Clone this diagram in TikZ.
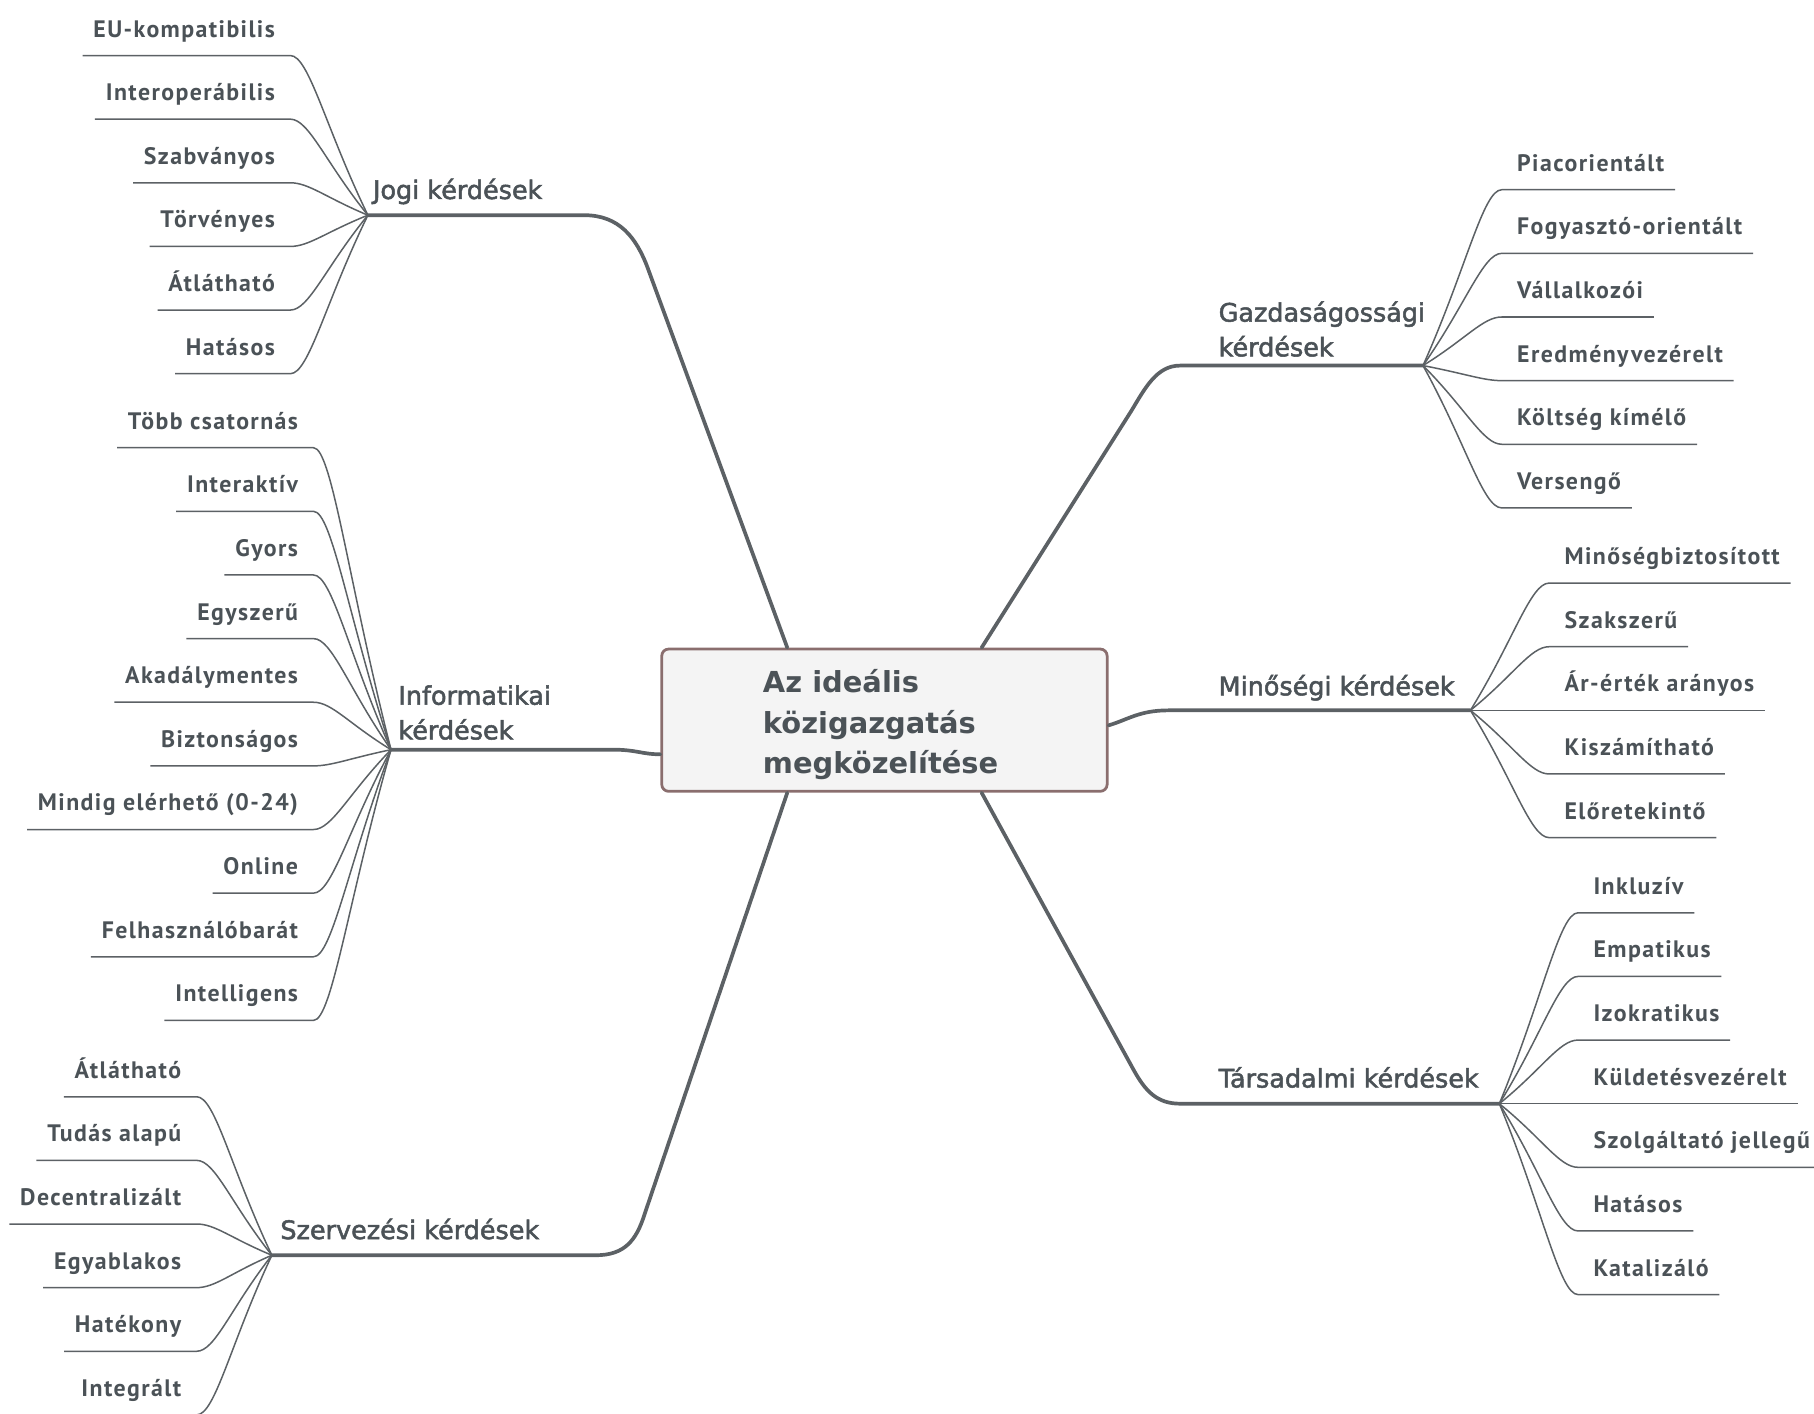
\documentclass[tikz,border=0pt]{standalone}
\usepackage{fontspec}
\setmainfont{PT Sans}
\newfontfamily\leaffont[LetterSpace=6]{PT Sans}
\newfontfamily\topicfont[FakeBold=2]{DejaVu Sans}
\newfontfamily\rootfont{DejaVu Sans}
\usetikzlibrary{calc}

\definecolor{inkgray}{HTML}{4B5257}
\definecolor{linegray}{HTML}{5C6165}
\definecolor{boxedge}{HTML}{8A6E6E}
\definecolor{boxfill}{HTML}{F4F4F4}

\tikzset{
    leaf/.style={inner sep=0pt, text=inkgray, font=\leaffont\bfseries\fontsize{10.3}{12}\selectfont},
    leafline/.style={draw=linegray, line width=0.65pt},
    branchline/.style={draw=linegray, line width=1.6pt, line cap=round},
    topic/.style={inner sep=0pt, anchor=north west, align=left, text=inkgray, font=\topicfont\fontsize{11}{15}\selectfont},
    rootbox/.style={draw=boxedge, fill=boxfill, line width=1.2pt, rounded corners=3pt, minimum width=192.5pt, minimum height=61.5pt, align=left, text=inkgray, font=\rootfont\bfseries\fontsize{12.5}{17.5}\selectfont}
}

\begin{document}
\begin{tikzpicture}[x=0.5pt, y=-0.5pt]
    \useasboundingbox (0,0) rectangle (1568,1222);

    % Root
    \node[rootbox] (root) at (764.5,622.5) {\raisebox{-2pt}[\height][\depth]{\parbox{105pt}{Az ideális\\közigazgatás\\megközelítése}}};

    % Branch points
    \coordinate (jogiB) at (318,186);
    \coordinate (infoB) at (338,648);
    \coordinate (szervB) at (235,1085);
    \coordinate (gazdB) at (1230,316);
    \coordinate (minoB) at (1271,614);
    \coordinate (tarsB) at (1296,954);

    % Main branches
    \draw[branchline] ([xshift=-42pt]root.north) -- (560,232) .. controls (550,205) and (535,186) .. (505,186) -- (jogiB);
    \draw[branchline] ([yshift=-14.75pt]root.west) .. controls (555,652) and (550,648) .. (530,648) -- (infoB);
    \draw[branchline] ([xshift=-42pt]root.south) -- (557,1050) .. controls (550,1072) and (540,1085) .. (515,1085) -- (szervB);
    \draw[branchline] ([xshift=42pt]root.north) -- (978,355) .. controls (990,335) and (1000,316) .. (1020,316) -- (gazdB);
    \draw[branchline] ([yshift=-2.25pt]root.east) .. controls (975,622) and (985,614) .. (1010,614) -- (minoB);
    \draw[branchline] ([xshift=42pt]root.south) -- (980,925) .. controls (990,943) and (1000,954) .. (1020,954) -- (tarsB);

    % Topic labels
    \node[topic] (jogiT) at (322,154) {Jogi kérdések};
    \node[topic] (infoT) at (344,592) {Informatikai\\kérdések};
    \node[topic] (szervT) at (242,1053) {Szervezési kérdések};
    \node[topic] (gazdT) at (1053,260) {Gazdaságossági\\kérdések};
    \node[topic] (minoT) at (1053,583) {Minőségi kérdések};
    \node[topic] (tarsT) at (1053,922) {Társadalmi kérdések};

    % Left leaves
    \foreach \t [count=\i from 0] in {EU-kompatibilis,Interoperábilis,Szabványos,Törvényes,Átlátható,Hatásos}{
        \node[leaf, anchor=base east] (jogi\i) at (238,{32+55*\i}) {\t};
        \coordinate (jogiE\i) at (251,{48+55*\i});
        \draw[leafline] (jogiB) .. controls ($(jogiB)!0.55!(jogiE\i)$) and ($(jogiE\i)+(16,0)$) .. (jogiE\i) -- ($(jogiE\i -| jogi\i.west)+(-9,0)$);
    }
    \foreach \t [count=\i from 0] in {Több csatornás,Interaktív,Gyors,Egyszerű,Akadálymentes,Biztonságos,Mindig elérhető (0-24),Online,Felhasználóbarát,Intelligens}{
        \node[leaf, anchor=base east] (info\i) at (258,{371+55*\i}) {\t};
        \coordinate (infoE\i) at (271,{387+55*\i});
        \draw[leafline] (infoB) .. controls ($(infoB)!0.55!(infoE\i)$) and ($(infoE\i)+(16,0)$) .. (infoE\i) -- ($(infoE\i -| info\i.west)+(-9,0)$);
    }
    \foreach \t [count=\i from 0] in {Átlátható,Tudás alapú,Decentralizált,Egyablakos,Hatékony,Integrált}{
        \node[leaf, anchor=base east] (szerv\i) at (157,{932+55*\i}) {\t};
        \coordinate (szervE\i) at (170,{948+55*\i});
        \draw[leafline] (szervB) .. controls ($(szervB)!0.55!(szervE\i)$) and ($(szervE\i)+(16,0)$) .. (szervE\i) -- ($(szervE\i -| szerv\i.west)+(-9,0)$);
    }

    % Right leaves
    \foreach \t [count=\i from 0] in {Piacorientált,Fogyasztó-orientált,Vállalkozói,Eredményvezérelt,Költség kímélő,Versengő}{
        \node[leaf, anchor=base west] (gazd\i) at (1311,{148+55*\i}) {\t};
        \coordinate (gazdE\i) at (1298,{164+55*\i});
        \draw[leafline] (gazdB) .. controls ($(gazdB)!0.55!(gazdE\i)$) and ($(gazdE\i)+(-16,0)$) .. (gazdE\i) -- ($(gazdE\i -| gazd\i.east)+(9,0)$);
    }
    \foreach \t [count=\i from 0] in {Minőségbiztosított,Szakszerű,Ár-érték arányos,Kiszámítható,Előretekintő}{
        \node[leaf, anchor=base west] (mino\i) at (1352,{488+55*\i}) {\t};
        \coordinate (minoE\i) at (1339,{504+55*\i});
        \draw[leafline] (minoB) .. controls ($(minoB)!0.55!(minoE\i)$) and ($(minoE\i)+(-16,0)$) .. (minoE\i) -- ($(minoE\i -| mino\i.east)+(9,0)$);
    }
    \foreach \t [count=\i from 0] in {Inkluzív,Empatikus,Izokratikus,Küldetésvezérelt,Szolgáltató jellegű,Hatásos,Katalizáló}{
        \node[leaf, anchor=base west] (tars\i) at (1377,{773+55*\i}) {\t};
        \coordinate (tarsE\i) at (1364,{789+55*\i});
        \draw[leafline] (tarsB) .. controls ($(tarsB)!0.55!(tarsE\i)$) and ($(tarsE\i)+(-16,0)$) .. (tarsE\i) -- ($(tarsE\i -| tars\i.east)+(9,0)$);
    }
\end{tikzpicture}
\end{document}
